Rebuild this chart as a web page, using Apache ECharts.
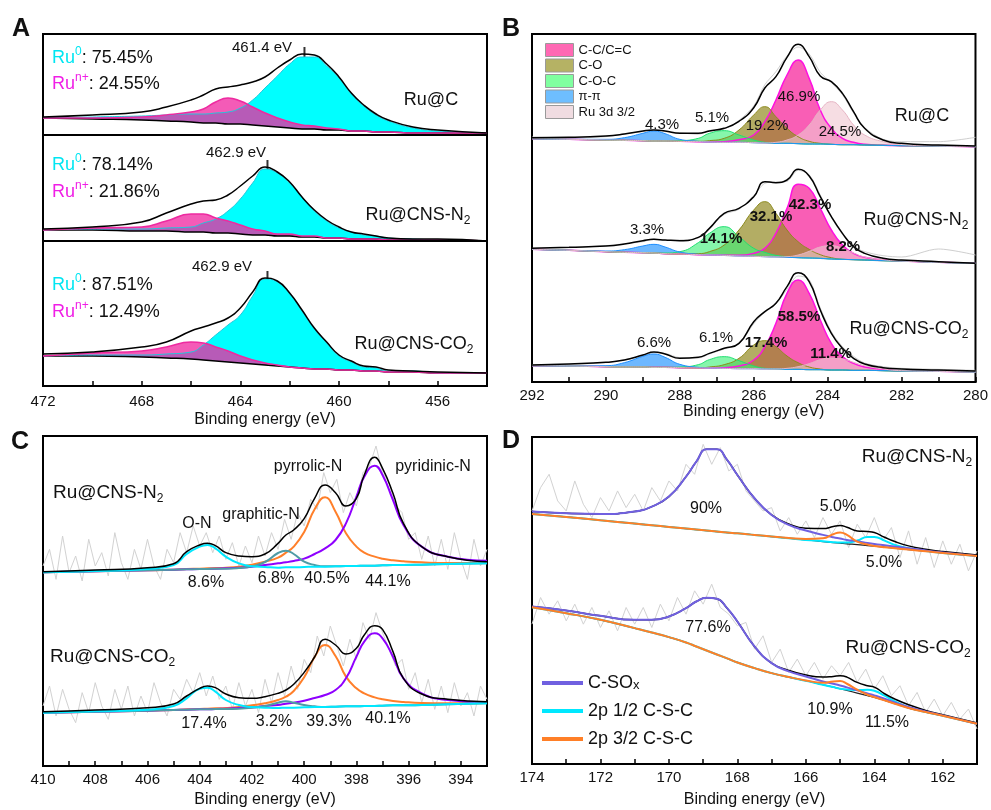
<!DOCTYPE html>
<html>
<head>
<meta charset="utf-8">
<script src="https://cdn.jsdelivr.net/npm/echarts@6.0.0/dist/echarts.min.js"></script>
<style>
  html, body { margin: 0; background: #fff; }
  #chart { width: 991px; height: 810px; }
</style>
</head>
<body>
<div id="chart"></div>
<script>
const FF = '"Liberation Sans", Arial, Helvetica, sans-serif'

// ---------- A: Ru 3p (heights above background, a.u.) ----------
const eA = [472, 470, 468, 467, 466, 465.5, 465, 464.5, 464, 463.5, 463, 462.5, 462, 461.5, 461, 460.5, 460, 459.5, 459, 458.5, 458, 457, 456, 454]
const bgA_C = [268, 267, 266, 265, 264, 263, 263, 262, 262, 261, 260, 259, 258, 257, 257, 256, 256, 255, 255, 254, 254, 253, 253, 253]
const envA_C = [1, 4, 8, 14, 22, 28, 34, 37, 39, 43, 49, 59, 68, 75, 74, 66, 53, 38, 26, 18, 12, 6, 3, 0]
const ru0A_C = [0, 2, 4, 6, 8, 9, 10, 12, 16, 25, 38, 51, 64, 72, 72, 64, 52, 37, 25, 17, 11, 5, 2, 0]
const runA_C = [0, 1, 3, 6, 10, 14, 21, 26, 23, 18, 13, 9, 6, 4, 3, 2, 1, 0, 0, 0, 0, 0, 0, 0]
const bgA_N = [156, 156, 155, 155, 154, 154, 153, 153, 152, 151, 151, 150, 150, 149, 149, 148, 148, 147, 147, 147, 146, 146, 146, 145]
const envA_N = [1, 3, 9, 18, 28, 31, 33, 38, 48, 59, 68, 64, 54, 40, 27, 18, 11, 7, 5, 3, 2, 1, 1, 0]
const ru0A_N = [0, 1, 2, 3, 5, 9, 14, 22, 35, 52, 66, 63, 53, 40, 26, 17, 10, 7, 4, 3, 2, 1, 0, 0]
const runA_N = [0, 2, 4, 10, 18, 18, 15, 12, 9, 6, 4, 2, 2, 1, 1, 0, 0, 0, 0, 0, 0, 0, 0, 0]
const bgA_O = [30, 30, 29, 28, 27, 26, 25, 24, 23, 22, 21, 20, 19, 18, 17, 17, 16, 16, 15, 15, 14, 14, 13, 13]
const envA_O = [2, 4, 10, 16, 28, 33, 38, 44, 55, 72, 87, 85, 74, 58, 41, 27, 15, 9, 5, 4, 2, 1, 1, 0]
const ru0A_O = [0, 1, 2, 4, 7, 15, 26, 37, 48, 68, 86, 84, 73, 57, 40, 26, 14, 8, 4, 3, 1, 1, 0, 0]
const runA_O = [0, 3, 6, 11, 17, 17, 14, 11, 7, 4, 2, 1, 0, 0, 0, 0, 0, 0, 0, 0, 0, 0, 0, 0]
const peakAE = [461.4, 462.9, 462.9]
const peakAI = [332, 219, 108]
const sepA = [251, 145]
const ru0Pct = ['75.45%', '78.14%', '87.51%']
const runPct = ['24.55%', '21.86%', '12.49%']
const peakLbl = ['461.4 eV', '462.9 eV', '462.9 eV']
const samples = ['Ru@C', 'Ru@CNS-N{sb|2}', 'Ru@CNS-CO{sb|2}']

// ---------- B: C 1s ----------
const eB = [292, 291, 290, 289.5, 289, 288.7, 288.4, 288, 287.5, 287.2, 286.8, 286.4, 286, 285.7, 285.4, 285.1, 284.8, 284.5, 284.2, 283.9, 283.6, 283.3, 283, 282.5, 282, 281, 280]
const bgB_C = [730, 728, 726, 725, 724, 723, 723, 722, 721, 720, 719, 719, 718, 717, 716, 716, 715, 714, 714, 713, 712, 712, 711, 710, 709, 708, 706]
const envB_C = [3, 6, 12, 19, 29, 33, 30, 24, 25, 33, 42, 63, 105, 165, 200, 258, 298, 262, 204, 188, 154, 99, 50, 16, 7, 3, 2]
const rawB_C = [5, 4, 10, 20, 27, 35, 28, 26, 22, 35, 40, 66, 110, 175, 215, 262, 290, 270, 215, 185, 150, 95, 52, 18, 12, 13, 28]
const piB_C = [0, 0, 2, 8, 22, 30, 22, 6, 1, 0, 0, 0, 0, 0, 0, 0, 0, 0, 0, 0, 0, 0, 0, 0, 0, 0, 0]
const cocB_C = [0, 0, 0, 0, 0, 0, 0, 2, 10, 26, 35, 22, 8, 2, 0, 0, 0, 0, 0, 0, 0, 0, 0, 0, 0, 0, 0]
const coB_C = [0, 0, 0, 0, 0, 0, 0, 0, 1, 4, 12, 37, 83, 109, 80, 45, 21, 8, 2, 0, 0, 0, 0, 0, 0, 0, 0]
const ccB_C = [0, 0, 0, 0, 0, 0, 0, 0, 0, 0, 2, 8, 23, 64, 130, 205, 251, 197, 102, 48, 19, 7, 2, 0, 0, 0, 0]
const ruB_C = [0, 0, 0, 0, 0, 0, 0, 0, 0, 0, 0, 0, 0, 0, 3, 10, 26, 57, 102, 128, 104, 59, 30, 11, 3, 0, 0]
const bgB_N = [398, 395, 391, 389, 388, 387, 385, 384, 382, 381, 380, 378, 377, 376, 375, 374, 373, 372, 371, 369, 368, 367, 366, 364, 363, 359, 356]
const envB_N = [3, 9, 17, 25, 36, 41, 41, 40, 52, 80, 126, 143, 179, 225, 223, 232, 265, 246, 185, 127, 78, 39, 20, 7, 3, 2, 0]
const rawB_N = [3, 8, 18, 26, 33, 42, 40, 42, 50, 78, 123, 140, 182, 220, 225, 228, 262, 250, 190, 125, 75, 40, 25, 15, 12, 40, 25]
const piB_N = [0, 0, 2, 8, 20, 26, 20, 6, 1, 0, 0, 0, 0, 0, 0, 0, 0, 0, 0, 0, 0, 0, 0, 0, 0, 0, 0]
const cocB_N = [0, 0, 0, 0, 0, 0, 2, 7, 36, 65, 86, 58, 24, 13, 5, 2, 0, 0, 0, 0, 0, 0, 0, 0, 0, 0, 0]
const coB_N = [0, 0, 0, 0, 0, 0, 0, 0, 3, 10, 31, 78, 139, 165, 131, 82, 48, 26, 11, 4, 0, 0, 0, 0, 0, 0, 0]
const ccB_N = [0, 0, 0, 0, 0, 0, 0, 0, 0, 0, 0, 2, 9, 25, 71, 147, 220, 209, 150, 87, 43, 19, 8, 3, 0, 0, 0]
const ruB_N = [0, 0, 0, 0, 0, 0, 0, 0, 0, 0, 0, 0, 0, 0, 0, 2, 8, 20, 34, 40, 33, 20, 9, 3, 0, 0, 0]
const bgB_O = [49, 48, 46, 45, 45, 44, 44, 43, 42, 42, 41, 40, 40, 39, 39, 38, 38, 37, 37, 36, 36, 35, 35, 34, 33, 32, 30]
const envB_O = [2, 6, 13, 21, 36, 46, 40, 28, 32, 44, 60, 76, 141, 172, 197, 248, 290, 264, 179, 110, 65, 36, 19, 9, 6, 4, 3]
const rawB_O = [3, 5, 12, 22, 34, 44, 42, 30, 30, 42, 58, 74, 135, 170, 195, 240, 280, 270, 185, 115, 70, 42, 22, 12, 8, 6, 5]
const piB_O = [0, 0, 3, 13, 32, 40, 30, 10, 2, 0, 0, 0, 0, 0, 0, 0, 0, 0, 0, 0, 0, 0, 0, 0, 0, 0, 0]
const cocB_O = [0, 0, 0, 0, 0, 0, 0, 2, 10, 25, 35, 24, 8, 2, 0, 0, 0, 0, 0, 0, 0, 0, 0, 0, 0, 0, 0]
const coB_O = [0, 0, 0, 0, 0, 0, 0, 0, 0, 3, 11, 31, 71, 85, 67, 40, 20, 8, 2, 0, 0, 0, 0, 0, 0, 0, 0]
const ccB_O = [0, 0, 0, 0, 0, 0, 0, 0, 0, 0, 2, 8, 26, 67, 137, 228, 268, 229, 149, 80, 40, 21, 10, 4, 1, 0, 0]
const ruB_O = [0, 0, 0, 0, 0, 0, 0, 0, 0, 0, 0, 0, 0, 0, 0, 3, 8, 18, 30, 36, 33, 24, 14, 5, 1, 0, 0]
const legendB = ['C-C/C=C', 'C-O', 'C-O-C', 'π-π', 'Ru 3d 3/2']
const pctB_C = ['4.3%', '5.1%', '19.2%', '46.9%', '24.5%']
const pctB_N = ['3.3%', '14.1%', '32.1%', '42.3%', '8.2%']
const pctB_O = ['6.6%', '6.1%', '17.4%', '58.5%', '11.4%']

// ---------- C: N 1s ----------
const eC = [410, 408, 406, 405, 404.5, 404, 403.7, 403.4, 403, 402.5, 402, 401.5, 401, 400.7, 400.4, 400, 399.6, 399.2, 398.8, 398.4, 398, 397.7, 397.3, 397, 396.6, 396.2, 395.5, 394.5, 393]
const bgC_N = [581, 584, 587, 589, 590, 591, 591, 592, 592, 593, 594, 595, 595, 596, 596, 597, 598, 598, 599, 600, 600, 601, 601, 602, 603, 603, 604, 606, 608]
const envC_N = [2, 4, 8, 18, 53, 72, 77, 69, 48, 37, 34, 41, 73, 97, 112, 145, 205, 245, 221, 180, 203, 272, 325, 291, 215, 125, 54, 22, 5]
const onC_N = [0, 1, 4, 14, 46, 67, 72, 61, 36, 15, 5, 2, 0, 0, 0, 0, 0, 0, 0, 0, 0, 0, 0, 0, 0, 0, 0, 0, 0]
const grC_N = [0, 0, 0, 0, 0, 0, 0, 0, 0, 1, 5, 17, 44, 50, 40, 16, 5, 1, 0, 0, 0, 0, 0, 0, 0, 0, 0, 0, 0]
const pyrC_N = [0, 0, 0, 0, 1, 1, 2, 2, 3, 5, 10, 18, 30, 44, 62, 105, 172, 208, 164, 98, 58, 39, 27, 20, 14, 11, 7, 3, 1]
const pydC_N = [0, 0, 0, 0, 0, 0, 0, 0, 1, 2, 4, 8, 13, 15, 19, 25, 38, 55, 79, 128, 208, 267, 300, 271, 195, 120, 54, 22, 8]
const bgC_O = [160, 163, 166, 168, 169, 170, 170, 171, 171, 172, 173, 174, 174, 175, 175, 176, 177, 177, 178, 179, 179, 180, 180, 181, 182, 182, 183, 185, 188]
const envC_O = [3, 5, 9, 18, 41, 63, 70, 64, 45, 33, 30, 34, 44, 53, 70, 105, 150, 203, 185, 157, 174, 213, 241, 229, 161, 81, 33, 15, 5]
const onC_O = [0, 1, 3, 12, 34, 62, 65, 52, 27, 11, 4, 1, 0, 0, 0, 0, 0, 0, 0, 0, 0, 0, 0, 0, 0, 0, 0, 0, 0]
const grC_O = [0, 0, 0, 0, 0, 0, 0, 0, 0, 0, 2, 6, 16, 19, 15, 7, 2, 0, 0, 0, 0, 0, 0, 0, 0, 0, 0, 0, 0]
const pyrC_O = [0, 0, 0, 0, 1, 1, 2, 2, 3, 5, 9, 14, 24, 33, 50, 90, 150, 186, 152, 89, 54, 38, 26, 19, 13, 10, 6, 3, 1]
const pydC_O = [0, 0, 0, 0, 0, 0, 0, 0, 1, 2, 3, 6, 9, 12, 15, 20, 27, 36, 50, 84, 149, 193, 218, 202, 146, 81, 35, 13, 3]
// raw spectra, 0.25 eV steps from 410 to 393
const rawC_N = [600, 650, 560, 690, 580, 630, 555, 680, 600, 640, 570, 700, 610, 560, 650, 590, 680, 600, 560, 650, 610, 700, 640, 720, 660, 700, 640, 690, 620, 670, 600, 660, 610, 690, 630, 700, 650, 740, 680, 760, 720, 800, 770, 880, 820, 860, 760, 820, 780, 880, 900, 960, 880, 850, 780, 760, 680, 700, 620, 690, 600, 680, 590, 700, 620, 560, 680, 600, 650]
const rawC_O = [180, 240, 150, 230, 170, 130, 220, 160, 250, 180, 140, 230, 170, 240, 150, 210, 160, 250, 190, 150, 230, 200, 260, 220, 280, 210, 270, 200, 240, 170, 250, 180, 230, 160, 260, 190, 280, 210, 300, 230, 320, 280, 390, 330, 420, 360, 300, 380, 320, 430, 380, 460, 400, 350, 300, 320, 230, 280, 190, 260, 170, 240, 160, 250, 180, 220, 150, 240, 200]
const compC = ['O-N', 'graphitic-N', 'pyrrolic-N', 'pyridinic-N']
const pctC_N = ['8.6%', '6.8%', '40.5%', '44.1%']
const pctC_O = ['17.4%', '3.2%', '39.3%', '40.1%']

// ---------- D: S 2p ----------
const eD = [174, 173, 172, 171, 170.5, 170, 169.5, 169.2, 168.9, 168.6, 168.3, 168, 167.5, 167, 166.5, 166, 165.5, 165.2, 165, 164.8, 164.5, 164.2, 164, 163.7, 163.4, 163, 162.5, 162, 161]
const bgD_N = [751, 742, 732, 722, 717, 712, 707, 704, 701, 698, 695, 693, 688, 683, 678, 673, 668, 665, 663, 661, 659, 656, 654, 651, 648, 644, 639, 634, 625]
const envD_N = [7, 11, 19, 36, 56, 91, 156, 204, 244, 247, 218, 175, 110, 65, 43, 35, 39, 48, 53, 50, 41, 42, 41, 30, 20, 11, 6, 4, 3]
const soD_N = [7, 11, 19, 36, 56, 91, 156, 204, 244, 247, 218, 175, 110, 65, 40, 28, 20, 16, 14, 12, 10, 8, 7, 6, 5, 4, 2, 1, 0]
const p12D_N = [0, 0, 0, 0, 0, 0, 0, 0, 0, 0, 0, 0, 0, 0, 0, 0, 1, 1, 2, 4, 12, 26, 28, 20, 10, 4, 1, 0, 0]
const p32D_N = [0, 0, 0, 0, 0, 0, 0, 0, 0, 0, 0, 0, 0, 0, 1, 3, 10, 25, 32, 27, 9, 3, 1, 0, 0, 0, 0, 0, 0]
const bgD_O = [471, 453, 433, 408, 395, 381, 365, 353, 341, 329, 317, 305, 288, 273, 261, 250, 238, 231, 226, 221, 213, 205, 200, 191, 181, 168, 156, 145, 121]
const envD_O = [2, 8, 12, 25, 38, 62, 103, 135, 158, 167, 151, 123, 65, 30, 20, 17, 23, 32, 39, 40, 32, 30, 31, 20, 14, 10, 5, 3, 2]
const soD_O = [2, 8, 12, 25, 38, 62, 103, 135, 158, 167, 151, 123, 65, 30, 17, 13, 10, 10, 10, 9, 8, 7, 6, 5, 4, 3, 2, 1, 0]
const p12D_O = [0, 0, 0, 0, 0, 0, 0, 0, 0, 0, 0, 0, 0, 0, 0, 0, 0, 0, 0, 3, 9, 18, 20, 14, 7, 2, 0, 0, 0]
const p32D_O = [0, 0, 0, 0, 0, 0, 0, 0, 0, 0, 0, 0, 0, 0, 0, 1, 6, 17, 23, 20, 10, 3, 1, 0, 0, 0, 0, 0, 0]
// raw spectra, 0.25 eV steps from 174 to 161
const rawD_N = [760, 830, 870, 790, 760, 850, 780, 740, 800, 760, 820, 770, 810, 760, 830, 790, 850, 820, 900, 870, 960, 900, 950, 880, 900, 820, 790, 760, 770, 700, 740, 690, 730, 680, 740, 690, 730, 650, 720, 680, 740, 670, 710, 620, 700, 600, 680, 590, 670, 600, 660, 580, 640]
const rawD_O = [420, 500, 450, 490, 430, 480, 420, 470, 410, 460, 400, 470, 420, 470, 410, 480, 430, 500, 450, 520, 480, 540, 470, 450, 415, 425, 345, 385, 305, 345, 275, 315, 265, 305, 255, 295, 265, 305, 245, 285, 225, 265, 205, 235, 175, 215, 155, 195, 145, 185, 135, 165, 105]
const legendD = ['C-SOx', '2p 1/2 C-S-C', '2p 3/2 C-S-C']
const pctD_N = ['90%', '5.0%', '5.0%']
const pctD_O = ['77.6%', '10.9%', '11.5%']

// energy grids for the raw traces
const eCr = []
for (let i = 0; i < rawC_N.length; i++) eCr.push(410 - i * 0.25)
const eDr = []
for (let i = 0; i < rawD_N.length; i++) eDr.push(174 - i * 0.25)

// ---------- helpers ----------
const series = []
const pair = (xs, ys) => xs.map((x, i) => [x, ys[i]])
const plus = (a, b) => a.map((v, i) => v + b[i])

function line(g, name, xs, ys, color, width, smooth) {
  series.push({
    type: 'line', name, xAxisIndex: g, yAxisIndex: g, data: pair(xs, ys),
    showSymbol: false, smooth: smooth === undefined ? 0.5 : smooth,
    lineStyle: { color, width }, itemStyle: { color },
    silent: true, animation: false,
  })
}

// filled peak between background and background + height.
// intensity goes in dimension 0 so that the stack is applied to it, not to the energy
function area(g, key, name, xs, base, h, lineColor, fill, lw) {
  const common = {
    type: 'line', xAxisIndex: g, yAxisIndex: g, stack: key, encode: { x: 1, y: 0 },
    showSymbol: false, smooth: 0.5, silent: true, animation: false,
  }
  series.push(Object.assign({}, common, {
    data: xs.map((x, i) => [base[i], x]), lineStyle: { width: 0, opacity: 0 },
  }))
  series.push(Object.assign({}, common, {
    name, data: xs.map((x, i) => [h[i], x]), lineStyle: { color: lineColor, width: lw || 1 },
    areaStyle: { color: fill, opacity: 1 }, itemStyle: { color: lineColor },
  }))
}

// A
;[
  ['C', bgA_C, envA_C, ru0A_C, runA_C],
  ['N', bgA_N, envA_N, ru0A_N, runA_N],
  ['O', bgA_O, envA_O, ru0A_O, runA_O],
].forEach(([k, bg, env, ru0, run]) => {
  line(0, 'bg', eA, bg, '#000', 1.5)
  area(0, 'A0' + k, 'Ru0', eA, bg, ru0, '#20c8dc', '#00ffff')
  area(0, 'An' + k, 'Run+', eA, bg, run, '#ee2aa0', 'rgba(240,40,160,0.76)', 1.6)
  line(0, 'fit', eA, plus(bg, env), '#000', 1.5)
})
series.push({
  type: 'scatter', xAxisIndex: 0, yAxisIndex: 0, data: pair(peakAE, peakAI),
  symbol: 'rect', symbolSize: [2, 14], itemStyle: { color: '#000' }, silent: true, animation: false,
  markLine: {
    silent: true, symbol: 'none', label: { show: false },
    lineStyle: { color: '#000', width: 2, type: 'solid' },
    data: sepA.map((v) => ({ yAxis: v })),
  },
})

// B
;[
  ['C', bgB_C, envB_C, rawB_C, ccB_C, coB_C, cocB_C, piB_C, ruB_C],
  ['N', bgB_N, envB_N, rawB_N, ccB_N, coB_N, cocB_N, piB_N, ruB_N],
  ['O', bgB_O, envB_O, rawB_O, ccB_O, coB_O, cocB_O, piB_O, ruB_O],
].forEach(([k, bg, env, raw, cc, co, coc, pi, ru]) => {
  line(1, 'raw', eB, plus(bg, raw), '#cfcfcf', 1, 0.3)
  line(1, 'bg', eB, bg, '#a4a8c4', 1.2)
  area(1, 'Bcc' + k, legendB[0], eB, bg, cc, '#ff10e0', 'rgba(248,80,175,0.92)', 1.5)
  area(1, 'Bco' + k, legendB[1], eB, bg, co, '#8c8a1c', 'rgba(150,142,40,0.72)')
  area(1, 'Bcoc' + k, legendB[2], eB, bg, coc, '#1ee070', 'rgba(60,240,120,0.62)')
  area(1, 'Bpi' + k, legendB[3], eB, bg, pi, '#1e8fff', 'rgba(40,150,255,0.68)')
  area(1, 'Bru' + k, legendB[4], eB, bg, ru, '#e6b4c4', 'rgba(240,200,210,0.62)')
  line(1, 'fit', eB, plus(bg, env), '#000', 1.5)
})

// C
;[
  [bgC_N, envC_N, rawC_N, onC_N, grC_N, pyrC_N, pydC_N],
  [bgC_O, envC_O, rawC_O, onC_O, grC_O, pyrC_O, pydC_O],
].forEach(([bg, env, raw, on, gr, pyr, pyd]) => {
  line(2, 'raw', eCr, raw, '#d2d2d2', 1, false)
  line(2, compC[2], eC, plus(bg, pyr), '#ff7f2a', 2)
  line(2, compC[3], eC, plus(bg, pyd), '#8f00ff', 2)
  line(2, compC[1], eC, plus(bg, gr), '#4f9ba5', 2)
  line(2, compC[0], eC, plus(bg, on), '#00e8ff', 2)
  line(2, 'fit', eC, plus(bg, env), '#000', 1.5)
})

// D
;[
  [bgD_N, envD_N, rawD_N, soD_N, p12D_N, p32D_N],
  [bgD_O, envD_O, rawD_O, soD_O, p12D_O, p32D_O],
].forEach(([bg, env, raw, so, p12, p32]) => {
  line(3, 'raw', eDr, raw, '#d2d2d2', 1, false)
  line(3, 'bg', eD, bg, '#222', 1.2)
  line(3, legendD[1], eD, plus(bg, p12), '#00e8ff', 2)
  line(3, 'fit', eD, plus(bg, env), '#000', 1.5)
  line(3, legendD[0], eD, plus(bg, so), '#7060e0', 2)
  line(3, legendD[2], eD, plus(bg, p32), '#ff7f27', 2)
})

// ---------- axes ----------
function xAx(g, min, max, step, every, margin, nameGap) {
  return {
    type: 'value', gridIndex: g, min, max, interval: step, inverse: true,
    name: 'Binding energy (eV)', nameLocation: 'middle', nameGap,
    nameTextStyle: { fontSize: 16, color: '#111', fontFamily: FF },
    axisLine: { show: true, onZero: false, lineStyle: { color: '#000', width: 2 } },
    axisTick: { show: true, inside: true, length: 5, lineStyle: { color: '#000', width: 1.5 } },
    axisLabel: {
      fontSize: 15, color: '#111', fontFamily: FF, margin,
      formatter: (v) => (Math.round(v) % every === 0 ? String(v) : ''),
    },
    splitLine: { show: false },
  }
}
const yAx = (g, max) => ({ type: 'value', gridIndex: g, min: 0, max, show: false })
const gridBox = (left, top, width, height) => ({
  left, top, width, height, show: true, borderColor: '#000', borderWidth: 2, backgroundColor: 'transparent',
})

// ---------- text ----------
const rich = {
  cy: { fill: '#00e6f2', fontSize: 18, fontFamily: FF },
  cys: { fill: '#00e6f2', fontSize: 12, fontFamily: FF, verticalAlign: 'top' },
  mg: { fill: '#f01ee6', fontSize: 18, fontFamily: FF },
  mgs: { fill: '#f01ee6', fontSize: 12, fontFamily: FF, verticalAlign: 'top' },
  sb: { fill: '#111', fontSize: 12, fontFamily: FF, verticalAlign: 'bottom' },
}
const T = (x, y, text, size, o) => ({
  type: 'text', x, y, silent: true, z: 100,
  style: Object.assign({
    text, fill: '#111', fontSize: size, fontFamily: FF, align: 'center', verticalAlign: 'middle',
    rich, lineHeight: 24,
  }, o || {}),
})
const texts = []
texts.push(T(21, 29, 'A', 25, { fontWeight: 'bold' }))
texts.push(T(511, 29, 'B', 25, { fontWeight: 'bold' }))
texts.push(T(20, 442, 'C', 25, { fontWeight: 'bold' }))
texts.push(T(511, 441, 'D', 25, { fontWeight: 'bold' }))

const ruY = [58, 165, 285]
const runY = [84, 192, 312]
const peakPos = [[262, 48], [236, 153], [222, 267]]
const sampAPos = [[431, 100], [418, 215], [414, 344]]
for (let i = 0; i < 3; i++) {
  texts.push(T(52, ruY[i], '{cy|Ru}{cys|0}: ' + ru0Pct[i], 18, { align: 'left' }))
  texts.push(T(52, runY[i], '{mg|Ru}{mgs|n+}: ' + runPct[i], 18, { align: 'left' }))
  texts.push(T(peakPos[i][0], peakPos[i][1], peakLbl[i], 15))
  texts.push(T(sampAPos[i][0], sampAPos[i][1], samples[i], 18))
}

const pctBPos = [
  [[662, 125], [712, 118], [767, 126], [799, 97], [840, 132]],
  [[647, 230], [721, 239], [771, 217], [810, 205], [843, 247]],
  [[654, 343], [716, 338], [766, 343], [799, 317], [831, 354]],
]
const boldB = [[0, 0, 0, 0, 0], [0, 1, 1, 1, 1], [0, 0, 1, 1, 1]]
const sampBPos = [[922, 116], [916, 220], [909, 329]]
;[pctB_C, pctB_N, pctB_O].forEach((row, r) => {
  row.forEach((s, i) => {
    texts.push(T(pctBPos[r][i][0], pctBPos[r][i][1], s, 15, boldB[r][i] ? { fontWeight: 'bold' } : {}))
  })
  texts.push(T(sampBPos[r][0], sampBPos[r][1], samples[r], 18))
})

const compCPos = [[197, 524], [261, 515], [308, 467], [433, 467]]
compC.forEach((s, i) => texts.push(T(compCPos[i][0], compCPos[i][1], s, 16)))
const pctCPos = [
  [[206, 583], [276, 579], [327, 579], [388, 582]],
  [[204, 724], [274, 722], [329, 722], [388, 719]],
]
;[pctC_N, pctC_O].forEach((row, r) => row.forEach((s, i) => texts.push(T(pctCPos[r][i][0], pctCPos[r][i][1], s, 16))))
texts.push(T(53, 493, samples[1], 19, { align: 'left' }))
texts.push(T(50, 657, samples[2], 19, { align: 'left' }))

const pctDPos = [
  [[706, 509], [838, 507], [884, 563]],
  [[708, 628], [830, 710], [887, 723]],
]
;[pctD_N, pctD_O].forEach((row, r) => row.forEach((s, i) => texts.push(T(pctDPos[r][i][0], pctDPos[r][i][1], s, 16))))
texts.push(T(917, 457, samples[1], 19))
texts.push(T(908, 648, samples[2], 19))

// ---------- chart ----------
const chart = echarts.init(document.getElementById('chart'), null, { renderer: 'canvas' })
chart.setOption({
  animation: false,
  backgroundColor: '#fff',
  grid: [
    gridBox(43, 34, 444, 352),
    gridBox(532, 34, 445, 348),
    gridBox(43, 436, 444, 330),
    gridBox(532, 437, 445, 327),
  ],
  xAxis: [
    xAx(0, 454, 472, 2, 4, 8, 26),
    xAx(1, 280, 292, 1, 2, 6, 21),
    xAx(2, 393, 410, 1, 2, 6, 26),
    xAx(3, 161, 174, 1, 2, 6, 28),
  ],
  yAxis: [yAx(0, 352), yAx(1, 1044), yAx(2, 990), yAx(3, 982)],
  legend: [
    {
      orient: 'vertical', left: 540, top: 38, itemWidth: 28, itemHeight: 13, itemGap: 1.5,
      icon: 'rect', selectedMode: false,
      textStyle: { fontSize: 13, fontFamily: FF, color: '#111' },
      itemStyle: { borderColor: '#9a9a9a', borderWidth: 1 },
      data: [
        { name: legendB[0], itemStyle: { color: '#ff69b4' } },
        { name: legendB[1], itemStyle: { color: '#b5b264' } },
        { name: legendB[2], itemStyle: { color: '#80ffa0' } },
        { name: legendB[3], itemStyle: { color: '#6ebeff' } },
        { name: legendB[4], itemStyle: { color: '#f0dce1' } },
      ],
    },
    {
      orient: 'vertical', left: 537, top: 669, itemWidth: 41, itemHeight: 4, itemGap: 10,
      icon: 'rect', selectedMode: false,
      textStyle: {
        fontSize: 18, fontFamily: FF, color: '#111',
        rich: {
          a: { fontSize: 18, fontFamily: FF, color: '#111' },
          s: { fontSize: 13, fontFamily: FF, color: '#111', verticalAlign: 'bottom' },
        },
      },
      formatter: (n) => (n === 'C-SOx' ? '{a|C-SO}{s|x}' : n),
      data: [
        { name: legendD[0], itemStyle: { color: '#7060e0' } },
        { name: legendD[1], itemStyle: { color: '#00e8ff' } },
        { name: legendD[2], itemStyle: { color: '#ff7f27' } },
      ],
    },
  ],
  graphic: texts,
  series,
})
</script>
</body>
</html>
